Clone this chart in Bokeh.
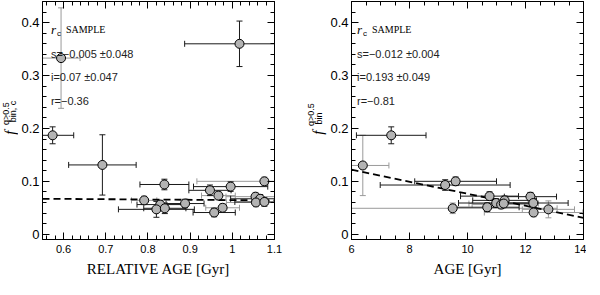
import numpy as np
from bokeh.plotting import figure
from bokeh.models import (Range1d, FixedTicker, LinearAxis, Whisker, TeeHead,
                          ColumnDataSource, Label)
from bokeh.layouts import row
from bokeh.embed import file_html
from bokeh.resources import INLINE

# ---------------- data ----------------
left_age = [0.574, 0.594, 0.692, 0.839, 0.791, 0.829, 0.820, 0.840, 0.888, 0.947,
            0.967, 0.996, 0.977, 0.957, 1.076, 1.055, 1.066, 1.056, 1.076, 1.017]
left_fbin = [0.187, 0.333, 0.131, 0.094, 0.064, 0.056, 0.047, 0.049, 0.058, 0.083,
             0.073, 0.090, 0.050, 0.041, 0.100, 0.071, 0.067, 0.060, 0.061, 0.360]
left_age_err = [0.05, 0.045, 0.08, 0.058, 0.03, 0.055, 0.09, 0.05, 0.045, 0.05,
                0.04, 0.088, 0.04, 0.05, 0.16, 0.07, 0.07, 0.07, 0.07, 0.13]
left_fbin_err = [0.016, 0.095, 0.057, 0.010, 0.008, 0.008, 0.015, 0.010, 0.008, 0.010,
                 0.008, 0.009, 0.008, 0.008, 0.008, 0.008, 0.008, 0.008, 0.008, 0.043]
left_err_gray = [0, 1, 0, 0, 1, 0, 0, 0, 0, 0, 1, 0, 1, 0, 1, 1, 0, 1, 0, 0]
left_fit_x = [0.55, 1.1]
left_fit_y = [0.067, 0.064]

right_age = [6.39, 7.37, 9.23, 9.59, 9.49, 10.76, 10.68, 10.99, 11.16, 11.28,
             11.25, 12.17, 12.27, 12.28, 12.79]
right_fbin = [0.130, 0.187, 0.093, 0.100, 0.049, 0.072, 0.051, 0.059, 0.056, 0.064,
              0.058, 0.071, 0.059, 0.041, 0.047]
right_age_err = [0.9, 1.2, 2.24, 1.41, 3.6, 1.0, 1.1, 1.3, 1.0, 1.1,
                 1.2, 0.9, 1.2, 1.7, 0.9]
right_fbin_err = [0.057, 0.016, 0.010, 0.008, 0.010, 0.008, 0.008, 0.008, 0.008, 0.008,
                  0.008, 0.008, 0.008, 0.008, 0.016]
right_err_gray = [1, 0, 0, 0, 1, 0, 0, 0, 1, 0, 1, 0, 0, 1, 1]
right_fit_x = [6, 14]
right_fit_y = [0.122, 0.031]

left_xticks = [0.6, 0.7, 0.8, 0.9, 1.0, 1.1]
left_xtick_labels = ["0.6", "0.7", "0.8", "0.9", "1", "1.1"]
right_xticks = [6, 8, 10, 12, 14]
right_xtick_labels = ["6", "8", "10", "12", "14"]
yticks = [0, 0.1, 0.2, 0.3, 0.4]
ytick_labels = ["0", "0.1", "0.2", "0.3", "0.4"]

left_stats = ["s=\u22120.005  \u00b10.048", "i=0.07  \u00b10.047", "r=\u22120.36"]
right_stats = ["s=\u22120.012  \u00b10.004", "i=0.193  \u00b10.049", "r=\u22120.81"]

SANS = "Liberation Sans"
SERIF = "Liberation Serif"
GRAY = "#9a9a9a"
DARK = "#1a1a1a"
YR = (-0.01, 0.44)
FH = 238
FW = 232
BT, BB = 1, 40


def make_label_fig(width, sub_text, fx, sx, bx, fy, sy, by):
    p = figure(frame_width=width, frame_height=FH, min_border_left=0, min_border_right=0,
               min_border_top=BT, min_border_bottom=BB,
               x_range=Range1d(0, width), y_range=Range1d(*YR),
               output_backend="svg", toolbar_location=None)
    p.axis.visible = False
    p.grid.visible = False
    p.outline_line_color = None
    p.add_layout(Label(x=fx, y=fy, text="f", angle=np.pi / 2,
                       text_font=SERIF, text_font_style="italic", text_font_size="15px",
                       text_color="black", text_align="center", text_baseline="middle"))
    p.add_layout(Label(x=sx, y=sy, text="q>0.5", angle=np.pi / 2,
                       text_font=SANS, text_font_size="9px", text_color="black",
                       text_align="center", text_baseline="middle"))
    p.add_layout(Label(x=bx, y=by, text=sub_text, angle=np.pi / 2,
                       text_font=SANS, text_font_size="9px", text_color="black",
                       text_align="center", text_baseline="middle"))
    return p


def make_panel(xs, ys, xe, ye, gray, fitx, fity, xr, xticks, xlabels, xminor,
               xtitle, stats, stat_x, min_left, min_right):
    p = figure(frame_width=FW, frame_height=FH, min_border_left=min_left,
               min_border_right=min_right, min_border_top=BT, min_border_bottom=BB,
               x_range=Range1d(*xr), y_range=Range1d(*YR),
               output_backend="svg", toolbar_location=None)
    p.grid.visible = False
    p.outline_line_color = "black"

    xt = FixedTicker(ticks=xticks, minor_ticks=xminor)
    yt = FixedTicker(ticks=yticks, minor_ticks=list(np.round(np.arange(0, 0.44, 0.02), 3)))
    p.xaxis.ticker = xt
    p.yaxis.ticker = yt
    p.xaxis.major_label_overrides = {t: l for t, l in zip(xticks, xlabels)}
    p.yaxis.major_label_overrides = {t: l for t, l in zip(yticks, ytick_labels)}
    p.xaxis.axis_label = xtitle
    p.xaxis.axis_label_text_font = SERIF
    p.xaxis.axis_label_text_font_style = "normal"
    p.xaxis.axis_label_text_font_size = "15px"
    p.xaxis.axis_label_text_color = "black"
    p.xaxis.axis_label_standoff = 5

    p.add_layout(LinearAxis(ticker=xt, major_label_text_font_size="1px",
                            major_label_text_alpha=0, major_label_standoff=0), "above")
    p.add_layout(LinearAxis(ticker=yt, major_label_text_font_size="1px",
                            major_label_text_alpha=0, major_label_standoff=0), "right")
    for ax in p.axis:
        ax.major_tick_in = 7
        ax.major_tick_out = 0
        ax.minor_tick_in = 4
        ax.minor_tick_out = 0
        ax.axis_line_color = "black"
        ax.major_tick_line_color = "black"
        ax.minor_tick_line_color = "black"
        ax.major_label_text_font = SANS
        ax.major_label_text_color = "black"
    p.xaxis[0].major_label_text_font_size = "13px"
    p.xaxis[0].major_label_standoff = 7
    p.yaxis[0].major_label_text_font_size = "13px"
    p.yaxis[0].major_label_standoff = 3

    xs = np.array(xs); ys = np.array(ys); xe = np.array(xe); ye = np.array(ye)
    g = np.array(gray).astype(bool)
    xl = np.maximum(xs - xe, xr[0]); xu = np.minimum(xs + xe, xr[1])
    for mask, col in ((g, GRAY), (~g, DARK)):
        src = ColumnDataSource(dict(x=xs[mask], y=ys[mask], xl=xl[mask], xu=xu[mask],
                                    yl=(ys - ye)[mask], yu=(ys + ye)[mask]))
        p.add_layout(Whisker(source=src, base="y", lower="xl", upper="xu",
                             dimension="width", line_color=col, line_width=1,
                             lower_head=TeeHead(size=6, line_color=col),
                             upper_head=TeeHead(size=6, line_color=col)))
        p.add_layout(Whisker(source=src, base="x", lower="yl", upper="yu",
                             dimension="height", line_color=col, line_width=1,
                             lower_head=TeeHead(size=6, line_color=col),
                             upper_head=TeeHead(size=6, line_color=col)))

    p.line(fitx, fity, line_color="black", line_width=1.8, line_dash="7 4")
    p.scatter(xs, ys, size=9, fill_color="#b3b3b3", line_color="black", line_width=1)

    p.add_layout(Label(x=stat_x, y=0.388, text="r", text_font=SERIF, text_font_style="italic",
                       text_font_size="13px", text_color="black", text_baseline="middle"))
    p.add_layout(Label(x=stat_x, y=0.388, x_offset=6, y_offset=-4, text="c", text_font=SANS,
                       text_font_size="8px", text_color="black", text_baseline="middle"))
    p.add_layout(Label(x=stat_x, y=0.388, x_offset=15, text="SAMPLE", text_font=SERIF,
                       text_font_size="10px", text_color="black", text_baseline="middle"))
    for txt, yy in zip(stats, [0.340, 0.297, 0.251]):
        p.add_layout(Label(x=stat_x, y=yy, text=txt, text_font=SANS, text_font_size="11px",
                           text_color="#222222", text_baseline="middle"))
    return p


left_lab = make_label_fig(18, "bin, c", 9, 5.5, 12, 0.192, 0.228, 0.232)
left = make_panel(left_age, left_fbin, left_age_err, left_fbin_err, left_err_gray,
                  left_fit_x, left_fit_y, (0.55, 1.1), left_xticks, left_xtick_labels,
                  list(np.round(np.arange(0.56, 1.1, 0.02), 3)),
                  "RELATIVE AGE [Gyr]", left_stats, 0.57, 23, 30)
right_lab = make_label_fig(23, "bin", 13, 6.5, 14, 0.192, 0.226, 0.219)
right = make_panel(right_age, right_fbin, right_age_err, right_fbin_err, right_err_gray,
                   right_fit_x, right_fit_y, (6, 14), right_xticks, right_xtick_labels,
                   list(np.arange(6, 14.01, 0.5)),
                   "AGE [Gyr]", right_stats, 6.19, 23, 3)

layout = row(left_lab, left, right_lab, right)
open("out.html", "w").write(file_html(layout, INLINE))
